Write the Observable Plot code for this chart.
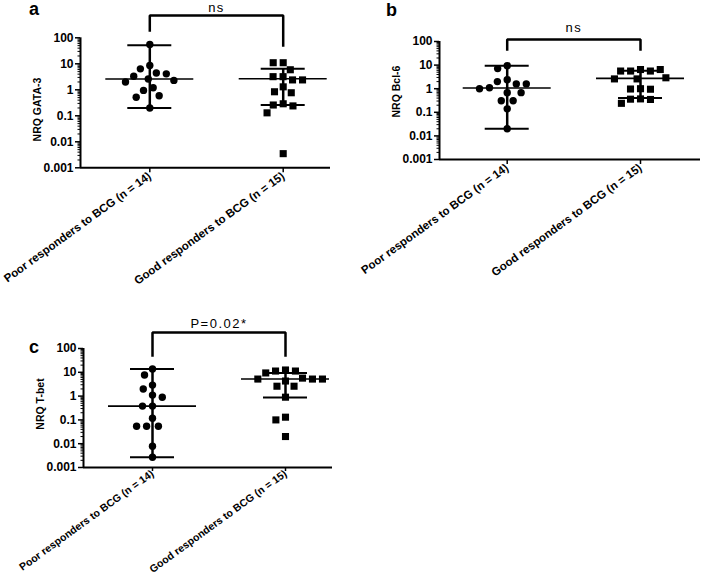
<!DOCTYPE html>
<html><head><meta charset="utf-8">
<script src="https://cdn.jsdelivr.net/npm/d3@7"></script>
<script src="https://cdn.jsdelivr.net/npm/@observablehq/plot@0.6"></script>
<style>
html,body{margin:0;padding:0;background:#fff;}
#fig{position:relative;width:709px;height:577px;overflow:hidden;font-family:"Liberation Sans",Arial,Helvetica,sans-serif;}
.panel{position:absolute;}
.letter{position:absolute;font-weight:bold;font-size:18px;line-height:18px;color:#000;}
</style></head>
<body><div id="fig"></div>
<script>
// ---------- data ----------
const groups = ["Poor responders to BCG (n = 14)", "Good responders to BCG (n = 15)"];
const yTicks = [100, 10, 1, 0.1, 0.01, 0.001];
const panelLetters = ["a", "b", "c"];
const yLabels = ["NRQ GATA-3", "NRQ Bcl-6", "NRQ T-bet"];
const sigLabels = ["ns", "ns", "P=0.02*"];

// Panel a: GATA-3
const gata3Poor = [55, 8.6, 6.4, 4.4, 4.1, 3.3, 2.6, 2.3, 2.0, 1.2, 0.95, 0.59, 0.52, 0.2];
const gata3Good = [11, 11, 5.9, 3.2, 3.2, 2.4, 2.4, 1.3, 0.84, 0.77, 0.29, 0.26, 0.24, 0.13, 0.0035];
const gata3Median = [2.6, 2.65];
const gata3Low = [0.2, 0.26];
const gata3High = [52, 6.4];

// Panel b: Bcl-6
const bcl6Poor = [9.5, 7.1, 2.4, 2.0, 1.6, 1.6, 1.1, 1.0, 0.68, 0.68, 0.31, 0.31, 0.14, 0.02];
const bcl6Good = [6.5, 5.6, 5.6, 5.6, 6.5, 2.9, 2.6, 2.6, 1.0, 0.97, 0.95, 0.37, 0.36, 0.35, 0.24];
const bcl6Median = [1.07, 2.75];
const bcl6Low = [0.02, 0.4];
const bcl6High = [9.5, 5.8];

// Panel c: T-bet
const tbetPoor = [13.8, 7.7, 2.9, 2.0, 1.1, 0.9, 0.38, 0.38, 0.118, 0.054, 0.054, 0.054, 0.0078, 0.0027];
const tbetGood = [12.5, 11.3, 11.3, 9.4, 5.7, 5.2, 5.2, 5.2, 4.3, 2.6, 2.6, 0.9, 0.13, 0.1, 0.02];
const tbetMedian = [0.38, 5.2];
const tbetLow = [0.0027, 0.87];
const tbetHigh = [13.8, 9.4];

const series = [
  {poor: gata3Poor, good: gata3Good, median: gata3Median, low: gata3Low, high: gata3High},
  {poor: bcl6Poor, good: bcl6Good, median: bcl6Median, low: bcl6Low, high: bcl6High},
  {poor: tbetPoor, good: tbetGood, median: tbetMedian, low: tbetLow, high: tbetHigh}
];

// ---------- layout (pixels / annotation levels) ----------
const layouts = [
  {left: 0, top: 0, width: 340, height: 300, axisLeft: 80, axisRight: 330, y100: 37.3, y001: 167.3,
   cat0: 149.3, cat1: 282.7, brTop: 721, brLeft: 191, brRight: 50.6, sigY: 1400, labelY: 109,
   letterX: 29, letterY: 0, xFont: 11.5, tickSize: 5, tickPad: 2},
  {left: 350, top: 0, width: 359, height: 300, axisLeft: 89, axisRight: 350, y100: 41, y001: 159,
   cat0: 156.7, cat1: 290, brTop: 122, brLeft: 45.8, brRight: 45.8, sigY: 392, labelY: 91,
   letterX: 386, letterY: 1, xFont: 11.5, tickSize: 5, tickPad: 2},
  {left: 0, top: 300, width: 340, height: 277, axisLeft: 83, axisRight: 332, y100: 48, y001: 167,
   cat0: 152, cat1: 285, brTop: 470, brLeft: 50.8, brRight: 50.8, sigY: 1123, labelY: 103.5,
   letterX: 29, letterY: 338, xFont: 10.5, tickSize: 4, tickPad: 1}
];

const minorTicks = [];
for (let e = -3; e < 2; e++) for (let m = 2; m <= 9; m++) minorTicks.push(m * Math.pow(10, e));

function beeswarm(ys, d) {
  const placed = [];
  return ys.map(y => {
    const cands = [0];
    for (const p of placed) {
      const dy = Math.abs(p.y - y);
      if (dy < d) { const w = Math.sqrt(d * d - dy * dy); cands.push(p.x - w, p.x + w); }
    }
    cands.sort((a, b) => Math.abs(a) - Math.abs(b) || a - b);
    let x = 0;
    for (const c of cands) {
      if (placed.every(p => (p.x - c) ** 2 + (p.y - y) ** 2 >= d * d - 1e-6)) { x = c; break; }
    }
    placed.push({x, y});
    return x;
  });
}

const fig = document.getElementById("fig");
const FONT = '"Liberation Sans", Arial, Helvetica, sans-serif';

series.forEach((s, pi) => {
  const L = layouts[pi];
  const spacing = L.cat1 - L.cat0;
  const xDomain = [-(L.cat0 - L.axisLeft) / spacing, 1 + (L.axisRight - L.cat1) / spacing];
  const yScale = Plot.scale({y: {type: "log", domain: [0.001, 100], range: [L.y001, L.y100]}});
  const dots = [];
  [s.poor, s.good].forEach((vals, gi) => {
    const offs = beeswarm(vals.map(v => yScale.apply(v)), 10);
    vals.forEach((v, k) => dots.push({g: gi, v, x: gi + offs[k] / spacing}));
  });
  const summary = [0, 1].map(i => ({i, med: s.median[i], lo: s.low[i], hi: s.high[i]}));
  const bracket = [
    {x: 0, y: L.brLeft}, {x: 0, y: L.brTop}, {x: 1, y: L.brTop}, {x: 1, y: L.brRight}
  ];
  const capW = 22 / spacing, medW = 44 / spacing;
  const labelValue = yScale.invert(L.labelY);

  const svg = Plot.plot({
    width: L.width, height: L.height,
    marginLeft: L.axisLeft, marginRight: L.width - L.axisRight,
    marginTop: L.y100, marginBottom: L.height - L.y001,
    x: {domain: xDomain, axis: null},
    y: {type: "log", domain: [0.001, 100], axis: null},
    style: {fontFamily: FONT, color: "black", background: "transparent", overflow: "visible"},
    marks: [
      Plot.ruleY([0.001], {strokeWidth: 2}),
      Plot.ruleX([xDomain[0]], {strokeWidth: 2}),
      Plot.axisY(minorTicks, {tickSize: 2.5, tickFormat: () => "", strokeWidth: 1, label: null}),
      Plot.axisY(yTicks, {tickSize: 5, tickPadding: 2, tickFormat: d => String(d), fontSize: 12,
        fontWeight: "bold", label: null, strokeWidth: 1.5}),
      Plot.axisX([0, 1], {tickSize: L.tickSize, tickPadding: L.tickPad, tickRotate: -36, tickFormat: i => groups[i],
        fontSize: L.xFont, fontWeight: "bold", label: null, strokeWidth: 1.5}),
      Plot.text([yLabels[pi]], {x: xDomain[0], y: () => labelValue, rotate: -90, dx: -43, text: d => d,
        fontSize: 10.5, fontWeight: "bold"}),
      Plot.ruleX(summary, {x: "i", y1: "lo", y2: "hi", strokeWidth: 2.5}),
      Plot.ruleY(summary, {y: "hi", x1: d => d.i - capW, x2: d => d.i + capW, strokeWidth: 2}),
      Plot.ruleY(summary, {y: "lo", x1: d => d.i - capW, x2: d => d.i + capW, strokeWidth: 2}),
      Plot.ruleY(summary, {y: "med", x1: d => d.i - medW, x2: d => d.i + medW, strokeWidth: 1.6}),
      Plot.dot(dots.filter(d => d.g === 0), {x: "x", y: "v", r: 3.7, fill: "black", symbol: "circle"}),
      Plot.dot(dots.filter(d => d.g === 1), {x: "x", y: "v", r: 4, fill: "black", symbol: "square"}),
      Plot.line(bracket, {x: "x", y: "y", strokeWidth: 2.5, strokeLinejoin: "miter", strokeLinecap: "square"}),
      Plot.text([sigLabels[pi]], {x: 0.5, y: () => L.sigY, text: d => d, fontSize: 13})
    ]
  });
  svg.classList.add("panel");
  svg.style.left = L.left + "px";
  svg.style.top = L.top + "px";
  svg.querySelectorAll("text").forEach(t => {
    if (t.textContent === sigLabels[pi]) t.style.letterSpacing = "1.5px";
  });
  fig.appendChild(svg);

  const lt = document.createElement("div");
  lt.className = "letter";
  lt.textContent = panelLetters[pi];
  lt.style.left = L.letterX + "px";
  lt.style.top = L.letterY + "px";
  fig.appendChild(lt);
});
</script></body></html>
